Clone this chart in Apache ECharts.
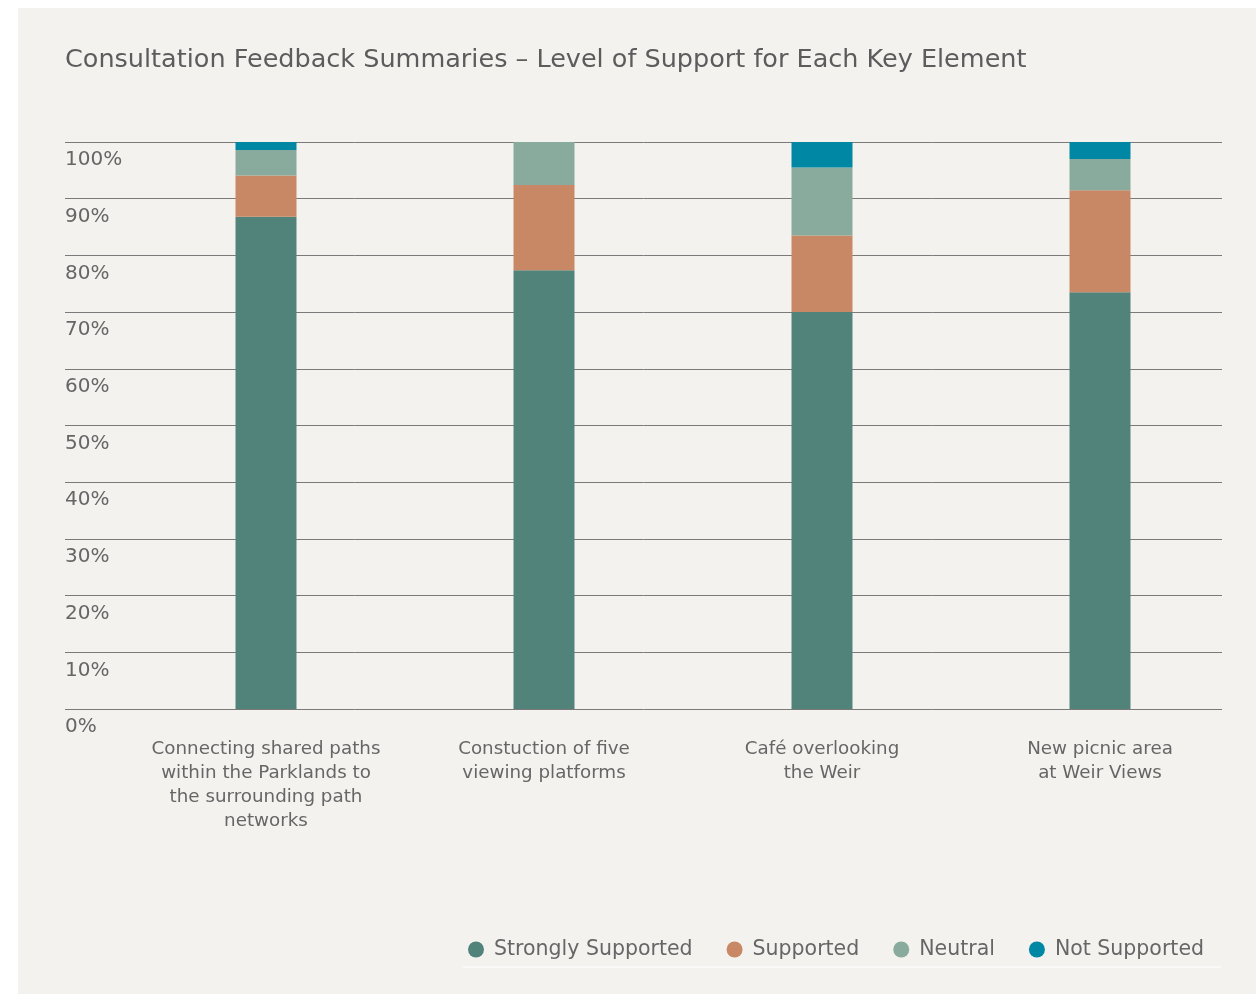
<!DOCTYPE html>
<html>
<head>
<meta charset="utf-8">
<script src="https://cdn.jsdelivr.net/npm/echarts@6/dist/echarts.min.js"></script>
<style>
html,body{margin:0;padding:0;background:#ffffff;}
#chart{width:1256px;height:994px;}
</style>
</head>
<body>
<div id="chart"></div>
<script>
const titleText = 'Consultation Feedback Summaries \u2013 Level of Support for Each Key Element';
const categories = [
  'Connecting shared paths\nwithin the Parklands to\nthe surrounding path\nnetworks',
  'Constuction of five\nviewing platforms',
  'Caf\u00e9 overlooking\nthe Weir',
  'New picnic area\nat Weir Views'
];
const seriesNames = ['Strongly Supported', 'Supported', 'Neutral', 'Not Supported'];
const stronglySupported = [86.8, 77.4, 70.0, 73.5];
const supported = [7.3, 15.0, 13.5, 18.0];
const neutral = [4.5, 7.6, 12.0, 5.5];
const notSupported = [1.4, 0, 4.5, 3.0];
const yTicks = [0, 10, 20, 30, 40, 50, 60, 70, 80, 90, 100];

const colors = ['#52837a', '#c98865', '#89ab9d', '#0087a3'];
const values = [stronglySupported, supported, neutral, notSupported];
const FONT = 'DejaVu Sans';

const chart = echarts.init(document.getElementById('chart'), null, {renderer: 'canvas'});
chart.setOption({
  backgroundColor: 'transparent',
  animation: false,
  color: colors,
  textStyle: {fontFamily: FONT},
  graphic: [
    {type: 'rect', z: -10, silent: true, shape: {x: 18, y: 8, width: 1238, height: 986}, style: {fill: '#f3f2ef'}},
    {type: 'line', z: 1, silent: true, shape: {x1: 463, y1: 967, x2: 1221, y2: 967}, style: {stroke: '#ffffff', lineWidth: 1}}
  ],
  title: {
    text: titleText,
    left: 60,
    top: 42,
    textStyle: {fontFamily: FONT, fontSize: 25.5, fontWeight: 'normal', color: '#5c5c5c'}
  },
  legend: {
    data: seriesNames,
    icon: 'circle',
    itemWidth: 16,
    itemHeight: 16,
    itemGap: 34,
    left: 463,
    top: 934,
    textStyle: {fontFamily: FONT, fontSize: 20.5, color: '#666666', padding: [0, 0, 0, 5]}
  },
  grid: [
    {left: 65, right: 34, top: 142, bottom: 285},
    {left: 127, right: 17, top: 142, bottom: 285}
  ],
  xAxis: [
    {gridIndex: 0, type: 'value', show: false, min: 0, max: 1},
    {
      gridIndex: 1, type: 'category', data: categories,
      axisLine: {show: false}, axisTick: {show: false},
      axisLabel: {
        interval: 0, margin: 28, verticalAlign: 'top', align: 'center',
        fontFamily: FONT, fontSize: 18.3, lineHeight: 24, color: '#666666'
      }
    }
  ],
  yAxis: [
    {
      gridIndex: 0, type: 'value', min: 0, max: 100, interval: 10,
      axisLine: {show: false}, axisTick: {show: false},
      splitLine: {show: true, lineStyle: {color: '#7a7a7a', width: 1}},
      axisLabel: {
        inside: true, margin: 0, align: 'left', verticalAlign: 'top',
        padding: [8, 0, 0, 0],
        fontFamily: FONT, fontSize: 20, color: '#666666',
        formatter: function (v) { return yTicks.indexOf(v) >= 0 ? v + '%' : ''; }
      }
    },
    {gridIndex: 1, type: 'value', min: 0, max: 100, interval: 10, show: false, splitLine: {show: false}}
  ],
  series: seriesNames.map(function (name, i) {
    return {
      name: name,
      type: 'bar',
      xAxisIndex: 1,
      yAxisIndex: 1,
      stack: 'total',
      barWidth: 61,
      z: 3,
      itemStyle: {color: colors[i]},
      data: values[i]
    };
  })
});
</script>
</body>
</html>
